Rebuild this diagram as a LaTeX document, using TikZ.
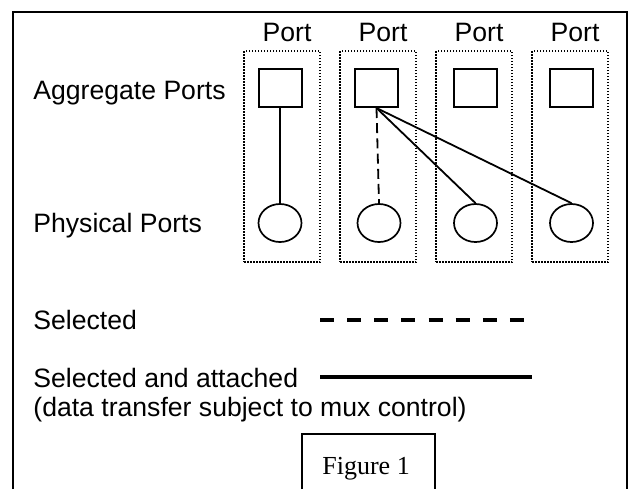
\documentclass[tikz,border=0pt]{standalone}
\usepackage{fontspec}
\setmainfont{Liberation Sans}
\newfontfamily\figfont{Liberation Serif}
\usetikzlibrary{positioning,shapes.geometric}

\begin{document}
\begin{tikzpicture}[x=0.5pt,y=-0.5pt,font=\fontsize{13.3}{16}\selectfont,
lbl/.style={inner sep=0pt,anchor=base west},
portlbl/.style={inner sep=0pt,anchor=base},
grp/.style={draw,line width=0.75pt,dash pattern=on 0.75pt off 0.75pt,
minimum width=38pt,minimum height=105.5pt,inner sep=0pt},
agg/.style={draw,line width=1pt,minimum width=21.5pt,minimum height=19pt,inner sep=0pt},
phy/.style={draw,ellipse,line width=0.85pt,minimum width=21.5pt,minimum height=19pt,inner sep=0pt},
link/.style={line width=0.9pt},
sel/.style={line width=0.9pt,dash pattern=on 5pt off 2.6pt}]
\useasboundingbox (0,0) rectangle (631,489);
\draw[line width=1pt] (12.5,489) |- (626.5,11.5) -- (626.5,489);

% port groups
\node[grp] (grp1) at (282,156.5) {};
\node[grp] (grp2) at (378,156.5) {};
\node[grp] (grp3) at (474,156.5) {};
\node[grp] (grp4) at (570,156.5) {};
\node[portlbl] (port1) at (287,41) {Port};
\node[portlbl] (port2) at (383,41) {Port};
\node[portlbl] (port3) at (479,41) {Port};
\node[portlbl] (port4) at (575,41) {Port};

\node[agg] (agg1) at (280,88) {};
\node[agg] (agg2) at (376.5,88) {};
\node[agg] (agg3) at (475.5,88) {};
\node[agg] (agg4) at (571.5,88) {};
\node[phy] (phy1) at (280,223) {};
\node[phy] (phy2) at (379,223) {};
\node[phy] (phy3) at (475.5,223) {};
\node[phy] (phy4) at (571.5,223) {};

\node[lbl] (agglbl) at (33,99) {Aggregate Ports};
\node[lbl] (phylbl) at (33,232) {Physical Ports};

\path (agg1.south) edge[link] (phy1.north)
      (agg2.south) edge[sel] (phy2.north)
      (agg2.south) edge[link] (phy3.north)
      (agg2.south) edge[link] (phy4.north)
;

% legend
\node[lbl] (sellbl) at (33,329) {Selected};
\node[lbl] (attlbl) at (33,387) {Selected and attached};
\node[lbl] (muxlbl) at (33,416) {(data transfer subject to mux control)};
\coordinate (sel-a) at (320,320);
\coordinate (sel-b) at (524,320);
\coordinate (att-a) at (320,377);
\coordinate (att-b) at (532,377);
\draw[line width=1.9pt,dash pattern=on 7pt off 6.57pt] (sel-a) -- (sel-b);
\draw[line width=1.9pt] (att-a) -- (att-b);

\node[lbl,font=\figfont\fontsize{13}{15.6}\selectfont] (fig) at (322,474) {Figure 1};
\draw[line width=0.75pt] (302,489) |- (435,434) -- (435,489);
\end{tikzpicture}
\end{document}
